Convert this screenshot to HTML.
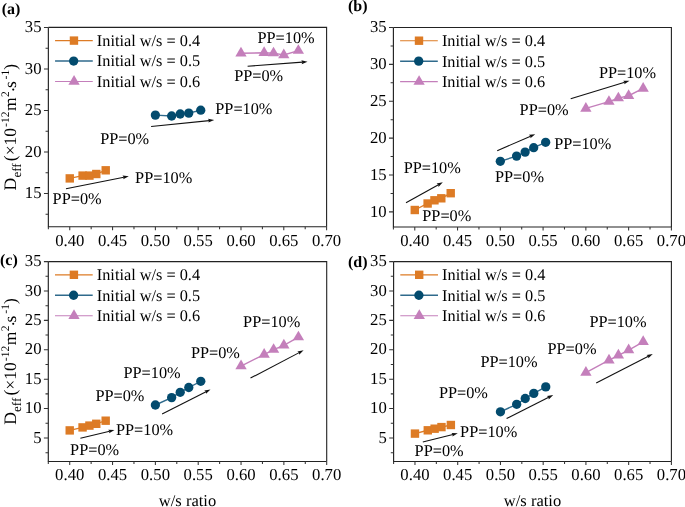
<!DOCTYPE html>
<html><head><meta charset="utf-8"><style>
html,body{margin:0;padding:0;background:#fff;}
svg{display:block;}
text{font-family:"Liberation Serif",serif;fill:#000;text-rendering:geometricPrecision;}
svg{will-change:transform;}
.tl{font-size:16.7px;}
.an{font-size:16.3px;}
.lg{font-size:16.3px;}
.pl{font-size:16px;font-weight:bold;}
.xt{font-size:16.5px;}
</style></head><body>
<svg width="685" height="507" viewBox="0 0 685 507">

<rect width="685" height="507" fill="#fff"/>
<g class="ax">
<path d="M48.36 27.4H326.6V226.7" fill="none" stroke="#222" stroke-width="1.1"/>
<path d="M48.36 27.4V226.7H326.6" fill="none" stroke="#222" stroke-width="1.15"/>
<path d="M43.96 193.48H48.36M43.96 151.96H48.36M43.96 110.44H48.36M43.96 68.92H48.36M43.96 27.4H48.36M45.56 214.24H48.36M45.56 172.72H48.36M45.56 131.2H48.36M45.56 89.68H48.36M45.56 48.16H48.36M69.76 226.7V230.3M112.57 226.7V230.3M155.38 226.7V230.3M198.18 226.7V230.3M240.99 226.7V230.3M283.79 226.7V230.3M326.6 226.7V230.3M48.36 226.7V229.3M91.17 226.7V229.3M133.97 226.7V229.3M176.78 226.7V229.3M219.58 226.7V229.3M262.39 226.7V229.3M305.2 226.7V229.3" stroke="#333" stroke-width="1.05" fill="none"/>
</g>
<text class="tl" x="41.56" y="198.18" text-anchor="end">15</text>
<text class="tl" x="41.56" y="156.66" text-anchor="end">20</text>
<text class="tl" x="41.56" y="115.14" text-anchor="end">25</text>
<text class="tl" x="41.56" y="73.62" text-anchor="end">30</text>
<text class="tl" x="41.56" y="32.1" text-anchor="end">35</text>
<text class="tl" x="69.76" y="245.6" text-anchor="middle">0.40</text>
<text class="tl" x="112.57" y="245.6" text-anchor="middle">0.45</text>
<text class="tl" x="155.38" y="245.6" text-anchor="middle">0.50</text>
<text class="tl" x="198.18" y="245.6" text-anchor="middle">0.55</text>
<text class="tl" x="240.99" y="245.6" text-anchor="middle">0.60</text>
<text class="tl" x="283.79" y="245.6" text-anchor="middle">0.65</text>
<text class="tl" x="326.6" y="245.6" text-anchor="middle">0.70</text>
<polyline points="69.76,178.4 82.6,175.6 89.45,175.6 96.3,174 105.72,170.3" fill="none" stroke="#DD7B25" stroke-width="1.4"/>
<polyline points="155.38,115.1 171.64,116 180.2,114 188.76,113.1 200.75,110.2" fill="none" stroke="#2f6a8c" stroke-width="1.4"/>
<polyline points="240.99,53.32 264.1,52.82 273.52,53.12 283.79,54.92 298.35,50.62" fill="none" stroke="#C47FBB" stroke-width="1.4"/>
<rect x="65.56" y="174.2" width="8.4" height="8.4" fill="#DD7B25"/>
<rect x="78.4" y="171.4" width="8.4" height="8.4" fill="#DD7B25"/>
<rect x="85.25" y="171.4" width="8.4" height="8.4" fill="#DD7B25"/>
<rect x="92.1" y="169.8" width="8.4" height="8.4" fill="#DD7B25"/>
<rect x="101.52" y="166.1" width="8.4" height="8.4" fill="#DD7B25"/>
<circle cx="155.38" cy="115.1" r="4.65" fill="#034B6E"/>
<circle cx="171.64" cy="116" r="4.65" fill="#034B6E"/>
<circle cx="180.2" cy="114" r="4.65" fill="#034B6E"/>
<circle cx="188.76" cy="113.1" r="4.65" fill="#034B6E"/>
<circle cx="200.75" cy="110.2" r="4.65" fill="#034B6E"/>
<path d="M240.99 46.85L246.64 56.55L235.34 56.55Z" fill="#C47FBB"/>
<path d="M264.1 46.35L269.75 56.05L258.45 56.05Z" fill="#C47FBB"/>
<path d="M273.52 46.65L279.17 56.35L267.87 56.35Z" fill="#C47FBB"/>
<path d="M283.79 48.45L289.44 58.15L278.14 58.15Z" fill="#C47FBB"/>
<path d="M298.35 44.15L304 53.85L292.7 53.85Z" fill="#C47FBB"/>
<line x1="66" y1="188.7" x2="123.9" y2="177.18" stroke="#111" stroke-width="1.1"/>
<path d="M128.8 176.2L123.29 179.23L123.7 177.22L122.54 175.51Z" fill="#111"/>
<line x1="151.1" y1="126.5" x2="209.23" y2="120.6" stroke="#111" stroke-width="1.1"/>
<path d="M214.2 120.1L208.42 122.6L209.03 120.62L208.04 118.82Z" fill="#111"/>
<line x1="247.6" y1="66.2" x2="302.51" y2="62.17" stroke="#111" stroke-width="1.1"/>
<path d="M307.5 61.8L301.66 64.13L302.31 62.18L301.38 60.34Z" fill="#111"/>
<text class="an" x="52.6" y="203.8">PP=0%</text>
<text class="an" x="135.1" y="183.1">PP=10%</text>
<text class="an" x="100.2" y="144.3">PP=0%</text>
<text class="an" x="215.3" y="114.2">PP=10%</text>
<text class="an" x="234.2" y="80.6">PP=0%</text>
<text class="an" x="257.5" y="43.4">PP=10%</text>
<line x1="55.06" y1="40.6" x2="92.76" y2="40.6" stroke="#DD7B25" stroke-width="1.15"/>
<rect x="69.76" y="36.4" width="8.4" height="8.4" fill="#DD7B25"/>
<text class="lg" x="96.86" y="46">Initial w/s = 0.4</text>
<line x1="55.06" y1="61.05" x2="92.76" y2="61.05" stroke="#2f6a8c" stroke-width="1.5"/>
<circle cx="73.66" cy="61.05" r="4.65" fill="#034B6E"/>
<text class="lg" x="96.86" y="66.45">Initial w/s = 0.5</text>
<line x1="55.06" y1="81.5" x2="92.76" y2="81.5" stroke="#C47FBB" stroke-width="1.15"/>
<path d="M74.06 75.03L79.71 84.73L68.41 84.73Z" fill="#C47FBB"/>
<text class="lg" x="96.86" y="86.9">Initial w/s = 0.6</text>
<text class="pl" x="1.75" y="14">(a)</text>
<text style="font-size:17.5px" transform="translate(16.4 190.4) rotate(-90)">D</text>
<text style="font-size:13px" transform="translate(20.9 177.6) rotate(-90)">eff</text>
<text style="font-size:17.5px" transform="translate(16.4 161.2) rotate(-90)">(×10</text>
<text style="font-size:11.5px" transform="translate(8.9 126.9) rotate(-90)">-12</text>
<text style="font-size:17.5px" transform="translate(16.4 110.9) rotate(-90)">m</text>
<text style="font-size:11.5px" transform="translate(8.9 97) rotate(-90)">2</text>
<text style="font-size:17.5px" transform="translate(18.7 92.5) rotate(-90)">·</text>
<text style="font-size:17.5px" transform="translate(16.4 88.1) rotate(-90)">s</text>
<text style="font-size:11.5px" transform="translate(8.9 79.4) rotate(-90)">-1</text>
<text style="font-size:17.5px" transform="translate(16.4 69.7) rotate(-90)">)</text>
<g class="ax">
<path d="M393.4 27.5H671.4V227" fill="none" stroke="#222" stroke-width="1.1"/>
<path d="M393.4 27.5V227H671.4" fill="none" stroke="#222" stroke-width="1.15"/>
<path d="M389 211.88H393.4M389 175H393.4M389 138.13H393.4M389 101.25H393.4M389 64.38H393.4M389 27.5H393.4M390.6 193.44H393.4M390.6 156.57H393.4M390.6 119.69H393.4M390.6 82.81H393.4M390.6 45.94H393.4M414.78 227V230.6M457.55 227V230.6M500.32 227V230.6M543.09 227V230.6M585.86 227V230.6M628.63 227V230.6M671.4 227V230.6M393.4 227V229.6M436.17 227V229.6M478.94 227V229.6M521.71 227V229.6M564.48 227V229.6M607.25 227V229.6M650.02 227V229.6" stroke="#333" stroke-width="1.05" fill="none"/>
</g>
<text class="tl" x="386.6" y="216.58" text-anchor="end">10</text>
<text class="tl" x="386.6" y="179.7" text-anchor="end">15</text>
<text class="tl" x="386.6" y="142.83" text-anchor="end">20</text>
<text class="tl" x="386.6" y="105.95" text-anchor="end">25</text>
<text class="tl" x="386.6" y="69.08" text-anchor="end">30</text>
<text class="tl" x="386.6" y="32.2" text-anchor="end">35</text>
<text class="tl" x="414.78" y="245.9" text-anchor="middle">0.40</text>
<text class="tl" x="457.55" y="245.9" text-anchor="middle">0.45</text>
<text class="tl" x="500.32" y="245.9" text-anchor="middle">0.50</text>
<text class="tl" x="543.09" y="245.9" text-anchor="middle">0.55</text>
<text class="tl" x="585.86" y="245.9" text-anchor="middle">0.60</text>
<text class="tl" x="628.63" y="245.9" text-anchor="middle">0.65</text>
<text class="tl" x="671.4" y="245.9" text-anchor="middle">0.70</text>
<polyline points="414.78,210 427.62,203.5 434.46,200.3 441.3,198.3 450.71,193.2" fill="none" stroke="#DD7B25" stroke-width="1.4"/>
<polyline points="500.32,161.3 516.58,156.1 525.13,152.1 533.68,147.7 545.66,142.3" fill="none" stroke="#2f6a8c" stroke-width="1.4"/>
<polyline points="585.86,108.42 608.96,101.62 618.37,98.12 628.63,95.72 643.17,88.42" fill="none" stroke="#C47FBB" stroke-width="1.4"/>
<rect x="410.58" y="205.8" width="8.4" height="8.4" fill="#DD7B25"/>
<rect x="423.42" y="199.3" width="8.4" height="8.4" fill="#DD7B25"/>
<rect x="430.26" y="196.1" width="8.4" height="8.4" fill="#DD7B25"/>
<rect x="437.1" y="194.1" width="8.4" height="8.4" fill="#DD7B25"/>
<rect x="446.51" y="189" width="8.4" height="8.4" fill="#DD7B25"/>
<circle cx="500.32" cy="161.3" r="4.65" fill="#034B6E"/>
<circle cx="516.58" cy="156.1" r="4.65" fill="#034B6E"/>
<circle cx="525.13" cy="152.1" r="4.65" fill="#034B6E"/>
<circle cx="533.68" cy="147.7" r="4.65" fill="#034B6E"/>
<circle cx="545.66" cy="142.3" r="4.65" fill="#034B6E"/>
<path d="M585.86 101.95L591.51 111.65L580.21 111.65Z" fill="#C47FBB"/>
<path d="M608.96 95.15L614.61 104.85L603.31 104.85Z" fill="#C47FBB"/>
<path d="M618.37 91.65L624.02 101.35L612.72 101.35Z" fill="#C47FBB"/>
<path d="M628.63 89.25L634.28 98.95L622.98 98.95Z" fill="#C47FBB"/>
<path d="M643.17 81.95L648.82 91.65L637.52 91.65Z" fill="#C47FBB"/>
<line x1="406" y1="202.8" x2="438.43" y2="184.73" stroke="#111" stroke-width="1.1"/>
<path d="M442.8 182.3L438.48 186.88L438.26 184.83L436.63 183.56Z" fill="#111"/>
<line x1="497.2" y1="150.7" x2="530.61" y2="136.19" stroke="#111" stroke-width="1.1"/>
<path d="M535.2 134.2L530.45 138.33L530.43 136.27L528.94 134.85Z" fill="#111"/>
<line x1="570.7" y1="98.7" x2="624.72" y2="82.26" stroke="#111" stroke-width="1.1"/>
<path d="M629.5 80.8L624.31 84.37L624.53 82.31L623.21 80.73Z" fill="#111"/>
<text class="an" x="403.7" y="172.5">PP=10%</text>
<text class="an" x="422.3" y="221.2">PP=0%</text>
<text class="an" x="495" y="182.3">PP=0%</text>
<text class="an" x="554.2" y="149.4">PP=10%</text>
<text class="an" x="519.6" y="114.6">PP=0%</text>
<text class="an" x="598.9" y="77.9">PP=10%</text>
<line x1="400.1" y1="40.7" x2="437.8" y2="40.7" stroke="#DD7B25" stroke-width="1.15"/>
<rect x="414.8" y="36.5" width="8.4" height="8.4" fill="#DD7B25"/>
<text class="lg" x="441.9" y="46.1">Initial w/s = 0.4</text>
<line x1="400.1" y1="61.15" x2="437.8" y2="61.15" stroke="#2f6a8c" stroke-width="1.5"/>
<circle cx="418.7" cy="61.15" r="4.65" fill="#034B6E"/>
<text class="lg" x="441.9" y="66.55">Initial w/s = 0.5</text>
<line x1="400.1" y1="81.6" x2="437.8" y2="81.6" stroke="#C47FBB" stroke-width="1.15"/>
<path d="M419.1 75.13L424.75 84.83L413.45 84.83Z" fill="#C47FBB"/>
<text class="lg" x="441.9" y="87">Initial w/s = 0.6</text>
<text class="pl" x="348" y="10.8">(b)</text>
<g class="ax">
<path d="M48.3 261.6H326.7V461.5" fill="none" stroke="#222" stroke-width="1.1"/>
<path d="M48.3 261.6V461.5H326.7" fill="none" stroke="#222" stroke-width="1.15"/>
<path d="M43.9 437.98H48.3M43.9 408.59H48.3M43.9 379.19H48.3M43.9 349.79H48.3M43.9 320.39H48.3M43.9 291H48.3M43.9 261.6H48.3M45.5 452.68H48.3M45.5 423.28H48.3M45.5 393.89H48.3M45.5 364.49H48.3M45.5 335.09H48.3M45.5 305.7H48.3M45.5 276.3H48.3M69.72 461.5V465.1M112.55 461.5V465.1M155.38 461.5V465.1M198.21 461.5V465.1M241.04 461.5V465.1M283.87 461.5V465.1M326.7 461.5V465.1M48.3 461.5V464.1M91.13 461.5V464.1M133.96 461.5V464.1M176.79 461.5V464.1M219.62 461.5V464.1M262.45 461.5V464.1M305.28 461.5V464.1" stroke="#333" stroke-width="1.05" fill="none"/>
</g>
<text class="tl" x="41.5" y="442.68" text-anchor="end">5</text>
<text class="tl" x="41.5" y="413.29" text-anchor="end">10</text>
<text class="tl" x="41.5" y="383.89" text-anchor="end">15</text>
<text class="tl" x="41.5" y="354.49" text-anchor="end">20</text>
<text class="tl" x="41.5" y="325.09" text-anchor="end">25</text>
<text class="tl" x="41.5" y="295.7" text-anchor="end">30</text>
<text class="tl" x="41.5" y="266.3" text-anchor="end">35</text>
<text class="tl" x="69.72" y="480.4" text-anchor="middle">0.40</text>
<text class="tl" x="112.55" y="480.4" text-anchor="middle">0.45</text>
<text class="tl" x="155.38" y="480.4" text-anchor="middle">0.50</text>
<text class="tl" x="198.21" y="480.4" text-anchor="middle">0.55</text>
<text class="tl" x="241.04" y="480.4" text-anchor="middle">0.60</text>
<text class="tl" x="283.87" y="480.4" text-anchor="middle">0.65</text>
<text class="tl" x="326.7" y="480.4" text-anchor="middle">0.70</text>
<polyline points="69.72,430.4 82.56,427.4 89.42,425.6 96.27,423.8 105.69,420.7" fill="none" stroke="#DD7B25" stroke-width="1.4"/>
<polyline points="155.38,405 171.65,397.6 180.22,392.3 188.78,387.5 200.78,381.3" fill="none" stroke="#2f6a8c" stroke-width="1.4"/>
<polyline points="241.04,366.02 264.17,354.52 273.59,349.62 283.87,345.32 298.43,337.12" fill="none" stroke="#C47FBB" stroke-width="1.4"/>
<rect x="65.52" y="426.2" width="8.4" height="8.4" fill="#DD7B25"/>
<rect x="78.36" y="423.2" width="8.4" height="8.4" fill="#DD7B25"/>
<rect x="85.22" y="421.4" width="8.4" height="8.4" fill="#DD7B25"/>
<rect x="92.07" y="419.6" width="8.4" height="8.4" fill="#DD7B25"/>
<rect x="101.49" y="416.5" width="8.4" height="8.4" fill="#DD7B25"/>
<circle cx="155.38" cy="405" r="4.65" fill="#034B6E"/>
<circle cx="171.65" cy="397.6" r="4.65" fill="#034B6E"/>
<circle cx="180.22" cy="392.3" r="4.65" fill="#034B6E"/>
<circle cx="188.78" cy="387.5" r="4.65" fill="#034B6E"/>
<circle cx="200.78" cy="381.3" r="4.65" fill="#034B6E"/>
<path d="M241.04 359.55L246.69 369.25L235.39 369.25Z" fill="#C47FBB"/>
<path d="M264.17 348.05L269.82 357.75L258.52 357.75Z" fill="#C47FBB"/>
<path d="M273.59 343.15L279.24 352.85L267.94 352.85Z" fill="#C47FBB"/>
<path d="M283.87 338.85L289.52 348.55L278.22 348.55Z" fill="#C47FBB"/>
<path d="M298.43 330.65L304.08 340.35L292.78 340.35Z" fill="#C47FBB"/>
<line x1="80.4" y1="438.2" x2="109.64" y2="431.26" stroke="#111" stroke-width="1.1"/>
<path d="M114.5 430.1L109.1 433.34L109.44 431.3L108.22 429.64Z" fill="#111"/>
<line x1="162.1" y1="414.1" x2="206.05" y2="391.67" stroke="#111" stroke-width="1.1"/>
<path d="M210.5 389.4L206.02 393.82L205.87 391.76L204.29 390.43Z" fill="#111"/>
<line x1="250.5" y1="378.1" x2="299.17" y2="352.62" stroke="#111" stroke-width="1.1"/>
<path d="M303.6 350.3L299.17 354.77L298.99 352.71L297.4 351.4Z" fill="#111"/>
<text class="an" x="70.1" y="454.5">PP=0%</text>
<text class="an" x="116" y="434.8">PP=10%</text>
<text class="an" x="95.4" y="401.2">PP=0%</text>
<text class="an" x="123.5" y="377.8">PP=10%</text>
<text class="an" x="190.9" y="357.6">PP=0%</text>
<text class="an" x="243.1" y="327.3">PP=10%</text>
<line x1="55" y1="274.8" x2="92.7" y2="274.8" stroke="#DD7B25" stroke-width="1.15"/>
<rect x="69.7" y="270.6" width="8.4" height="8.4" fill="#DD7B25"/>
<text class="lg" x="96.8" y="280.2">Initial w/s = 0.4</text>
<line x1="55" y1="295.25" x2="92.7" y2="295.25" stroke="#2f6a8c" stroke-width="1.5"/>
<circle cx="73.6" cy="295.25" r="4.65" fill="#034B6E"/>
<text class="lg" x="96.8" y="300.65">Initial w/s = 0.5</text>
<line x1="55" y1="315.7" x2="92.7" y2="315.7" stroke="#C47FBB" stroke-width="1.15"/>
<path d="M74 309.23L79.65 318.93L68.35 318.93Z" fill="#C47FBB"/>
<text class="lg" x="96.8" y="321.1">Initial w/s = 0.6</text>
<text class="pl" x="0" y="265">(c)</text>
<text style="font-size:17.5px" transform="translate(16.4 424.7) rotate(-90)">D</text>
<text style="font-size:13px" transform="translate(20.9 411.9) rotate(-90)">eff</text>
<text style="font-size:17.5px" transform="translate(16.4 395.5) rotate(-90)">(×10</text>
<text style="font-size:11.5px" transform="translate(8.9 361.2) rotate(-90)">-12</text>
<text style="font-size:17.5px" transform="translate(16.4 345.2) rotate(-90)">m</text>
<text style="font-size:11.5px" transform="translate(8.9 331.3) rotate(-90)">2</text>
<text style="font-size:17.5px" transform="translate(18.7 326.8) rotate(-90)">·</text>
<text style="font-size:17.5px" transform="translate(16.4 322.4) rotate(-90)">s</text>
<text style="font-size:11.5px" transform="translate(8.9 313.7) rotate(-90)">-1</text>
<text style="font-size:17.5px" transform="translate(16.4 304) rotate(-90)">)</text>
<text class="xt" x="187.5" y="506" text-anchor="middle">w/s ratio</text>
<g class="ax">
<path d="M393.6 261.6H671.4V461.5" fill="none" stroke="#222" stroke-width="1.1"/>
<path d="M393.6 261.6V461.5H671.4" fill="none" stroke="#222" stroke-width="1.15"/>
<path d="M389.2 437.98H393.6M389.2 408.59H393.6M389.2 379.19H393.6M389.2 349.79H393.6M389.2 320.39H393.6M389.2 291H393.6M389.2 261.6H393.6M390.8 452.68H393.6M390.8 423.28H393.6M390.8 393.89H393.6M390.8 364.49H393.6M390.8 335.09H393.6M390.8 305.7H393.6M390.8 276.3H393.6M414.97 461.5V465.1M457.71 461.5V465.1M500.45 461.5V465.1M543.18 461.5V465.1M585.92 461.5V465.1M628.66 461.5V465.1M671.4 461.5V465.1M393.6 461.5V464.1M436.34 461.5V464.1M479.08 461.5V464.1M521.82 461.5V464.1M564.55 461.5V464.1M607.29 461.5V464.1M650.03 461.5V464.1" stroke="#333" stroke-width="1.05" fill="none"/>
</g>
<text class="tl" x="386.8" y="442.68" text-anchor="end">5</text>
<text class="tl" x="386.8" y="413.29" text-anchor="end">10</text>
<text class="tl" x="386.8" y="383.89" text-anchor="end">15</text>
<text class="tl" x="386.8" y="354.49" text-anchor="end">20</text>
<text class="tl" x="386.8" y="325.09" text-anchor="end">25</text>
<text class="tl" x="386.8" y="295.7" text-anchor="end">30</text>
<text class="tl" x="386.8" y="266.3" text-anchor="end">35</text>
<text class="tl" x="414.97" y="480.4" text-anchor="middle">0.40</text>
<text class="tl" x="457.71" y="480.4" text-anchor="middle">0.45</text>
<text class="tl" x="500.45" y="480.4" text-anchor="middle">0.50</text>
<text class="tl" x="543.18" y="480.4" text-anchor="middle">0.55</text>
<text class="tl" x="585.92" y="480.4" text-anchor="middle">0.60</text>
<text class="tl" x="628.66" y="480.4" text-anchor="middle">0.65</text>
<text class="tl" x="671.4" y="480.4" text-anchor="middle">0.70</text>
<polyline points="414.97,433.6 427.79,430.3 434.63,428.7 441.47,427.1 450.87,425" fill="none" stroke="#DD7B25" stroke-width="1.4"/>
<polyline points="500.45,411.8 516.69,404.3 525.23,398.5 533.78,393.4 545.75,386.9" fill="none" stroke="#2f6a8c" stroke-width="1.4"/>
<polyline points="585.92,372.52 609,360.22 618.4,355.32 628.66,350.02 643.19,341.82" fill="none" stroke="#C47FBB" stroke-width="1.4"/>
<rect x="410.77" y="429.4" width="8.4" height="8.4" fill="#DD7B25"/>
<rect x="423.59" y="426.1" width="8.4" height="8.4" fill="#DD7B25"/>
<rect x="430.43" y="424.5" width="8.4" height="8.4" fill="#DD7B25"/>
<rect x="437.27" y="422.9" width="8.4" height="8.4" fill="#DD7B25"/>
<rect x="446.67" y="420.8" width="8.4" height="8.4" fill="#DD7B25"/>
<circle cx="500.45" cy="411.8" r="4.65" fill="#034B6E"/>
<circle cx="516.69" cy="404.3" r="4.65" fill="#034B6E"/>
<circle cx="525.23" cy="398.5" r="4.65" fill="#034B6E"/>
<circle cx="533.78" cy="393.4" r="4.65" fill="#034B6E"/>
<circle cx="545.75" cy="386.9" r="4.65" fill="#034B6E"/>
<path d="M585.92 366.05L591.57 375.75L580.27 375.75Z" fill="#C47FBB"/>
<path d="M609 353.75L614.65 363.45L603.35 363.45Z" fill="#C47FBB"/>
<path d="M618.4 348.85L624.05 358.55L612.75 358.55Z" fill="#C47FBB"/>
<path d="M628.66 343.55L634.31 353.25L623.01 353.25Z" fill="#C47FBB"/>
<path d="M643.19 335.35L648.84 345.05L637.54 345.05Z" fill="#C47FBB"/>
<line x1="422.8" y1="442" x2="452.95" y2="434.51" stroke="#111" stroke-width="1.1"/>
<path d="M457.8 433.3L452.44 436.59L452.75 434.55L451.52 432.9Z" fill="#111"/>
<line x1="506.6" y1="418.6" x2="548.74" y2="397.35" stroke="#111" stroke-width="1.1"/>
<path d="M553.2 395.1L548.7 399.5L548.56 397.44L546.99 396.11Z" fill="#111"/>
<line x1="596.2" y1="383" x2="648.35" y2="356.19" stroke="#111" stroke-width="1.1"/>
<path d="M652.8 353.9L648.33 358.33L648.18 356.28L646.6 354.95Z" fill="#111"/>
<text class="an" x="414.6" y="456.4">PP=0%</text>
<text class="an" x="460.1" y="436.6">PP=10%</text>
<text class="an" x="438.9" y="398.1">PP=0%</text>
<text class="an" x="480.4" y="367.4">PP=10%</text>
<text class="an" x="547.5" y="353.9">PP=0%</text>
<text class="an" x="589.4" y="327.3">PP=10%</text>
<line x1="400.3" y1="274.8" x2="438" y2="274.8" stroke="#DD7B25" stroke-width="1.15"/>
<rect x="415" y="270.6" width="8.4" height="8.4" fill="#DD7B25"/>
<text class="lg" x="442.1" y="280.2">Initial w/s = 0.4</text>
<line x1="400.3" y1="295.25" x2="438" y2="295.25" stroke="#2f6a8c" stroke-width="1.5"/>
<circle cx="418.9" cy="295.25" r="4.65" fill="#034B6E"/>
<text class="lg" x="442.1" y="300.65">Initial w/s = 0.5</text>
<line x1="400.3" y1="315.7" x2="438" y2="315.7" stroke="#C47FBB" stroke-width="1.15"/>
<path d="M419.3 309.23L424.95 318.93L413.65 318.93Z" fill="#C47FBB"/>
<text class="lg" x="442.1" y="321.1">Initial w/s = 0.6</text>
<text class="pl" x="348" y="267">(d)</text>
<text class="xt" x="532.5" y="506" text-anchor="middle">w/s ratio</text>
</svg>
</body></html>
